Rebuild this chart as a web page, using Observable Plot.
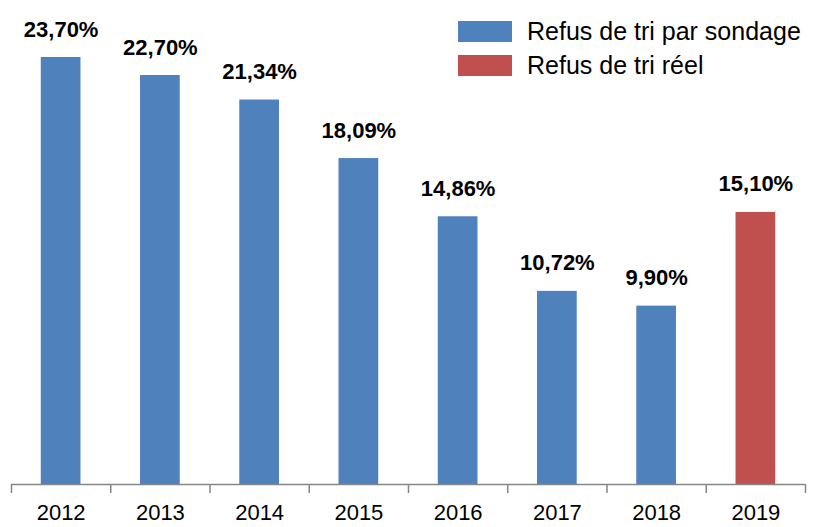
<!DOCTYPE html>
<html>
<head>
<meta charset="utf-8">
<script src="https://cdn.jsdelivr.net/npm/d3@7"></script>
<script src="https://cdn.jsdelivr.net/npm/@observablehq/plot@0.6"></script>
<style>
  html, body { margin: 0; padding: 0; background: #fff; }
  #wrap { position: relative; width: 819px; height: 527px; font-family: "Liberation Sans", Arial, sans-serif; }
  #legend { position: absolute; left: 458px; top: 14px; font-size: 25px; color: #000; }
  .row { display: flex; align-items: center; height: 34.5px; }
  .sw { width: 54px; height: 21px; margin-right: 15px; }
</style>
</head>
<body>
<div id="wrap"><div id="legend"></div></div>
<script>
const years = [2012, 2013, 2014, 2015, 2016, 2017, 2018, 2019];
const values = [23.70, 22.70, 21.34, 18.09, 14.86, 10.72, 9.90, 15.10];
const series = ["Refus de tri par sondage", "Refus de tri par sondage", "Refus de tri par sondage", "Refus de tri par sondage", "Refus de tri par sondage", "Refus de tri par sondage", "Refus de tri par sondage", "Refus de tri réel"];
const seriesNames = ["Refus de tri par sondage", "Refus de tri réel"];
const seriesColors = ["#4F81BD", "#C0504D"];

const data = years.map((y, i) => ({year: y, value: values[i], series: series[i]}));
const boundaries = years.map(y => y - 0.5).concat([years[years.length - 1] + 0.5]);
const fmt = v => v.toFixed(2).replace(".", ",") + "%";

const chart = Plot.plot({
  width: 819,
  height: 527,
  marginLeft: 11,
  marginRight: 14,
  marginTop: 57,
  marginBottom: 43,
  style: {fontFamily: "'Liberation Sans', Arial, sans-serif", background: "white"},
  x: {type: "linear", domain: [years[0] - 0.5, years[years.length - 1] + 0.5], label: null},
  y: {domain: [0, 23.7], axis: null},
  color: {domain: seriesNames, range: seriesColors},
  marks: [
    Plot.rectY(data, {x1: d => d.year - 0.2, x2: d => d.year + 0.2, y1: 0, y2: "value", fill: "series"}),
    Plot.ruleY([0], {stroke: "#868686", strokeWidth: 1.5}),
    Plot.axisX({ticks: boundaries, tickFormat: () => "", tickSize: 9, stroke: "#868686", strokeWidth: 1.5, label: null}),
    Plot.axisX({ticks: years, tickFormat: d => String(d), tickSize: 0, tickPadding: 20, fontSize: 22, fill: "#000", label: null}),
    Plot.text(data, {x: "year", y: "value", text: d => fmt(d.value), dy: -28, fontSize: 22, fontWeight: "bold", fill: "#000"})
  ]
});
document.getElementById("wrap").prepend(chart);

const legend = document.getElementById("legend");
seriesNames.forEach((n, i) => {
  const row = document.createElement("div");
  row.className = "row";
  const sw = document.createElement("div");
  sw.className = "sw";
  sw.style.background = seriesColors[i];
  const t = document.createElement("span");
  t.textContent = n;
  row.appendChild(sw);
  row.appendChild(t);
  legend.appendChild(row);
});
</script>
</body>
</html>
